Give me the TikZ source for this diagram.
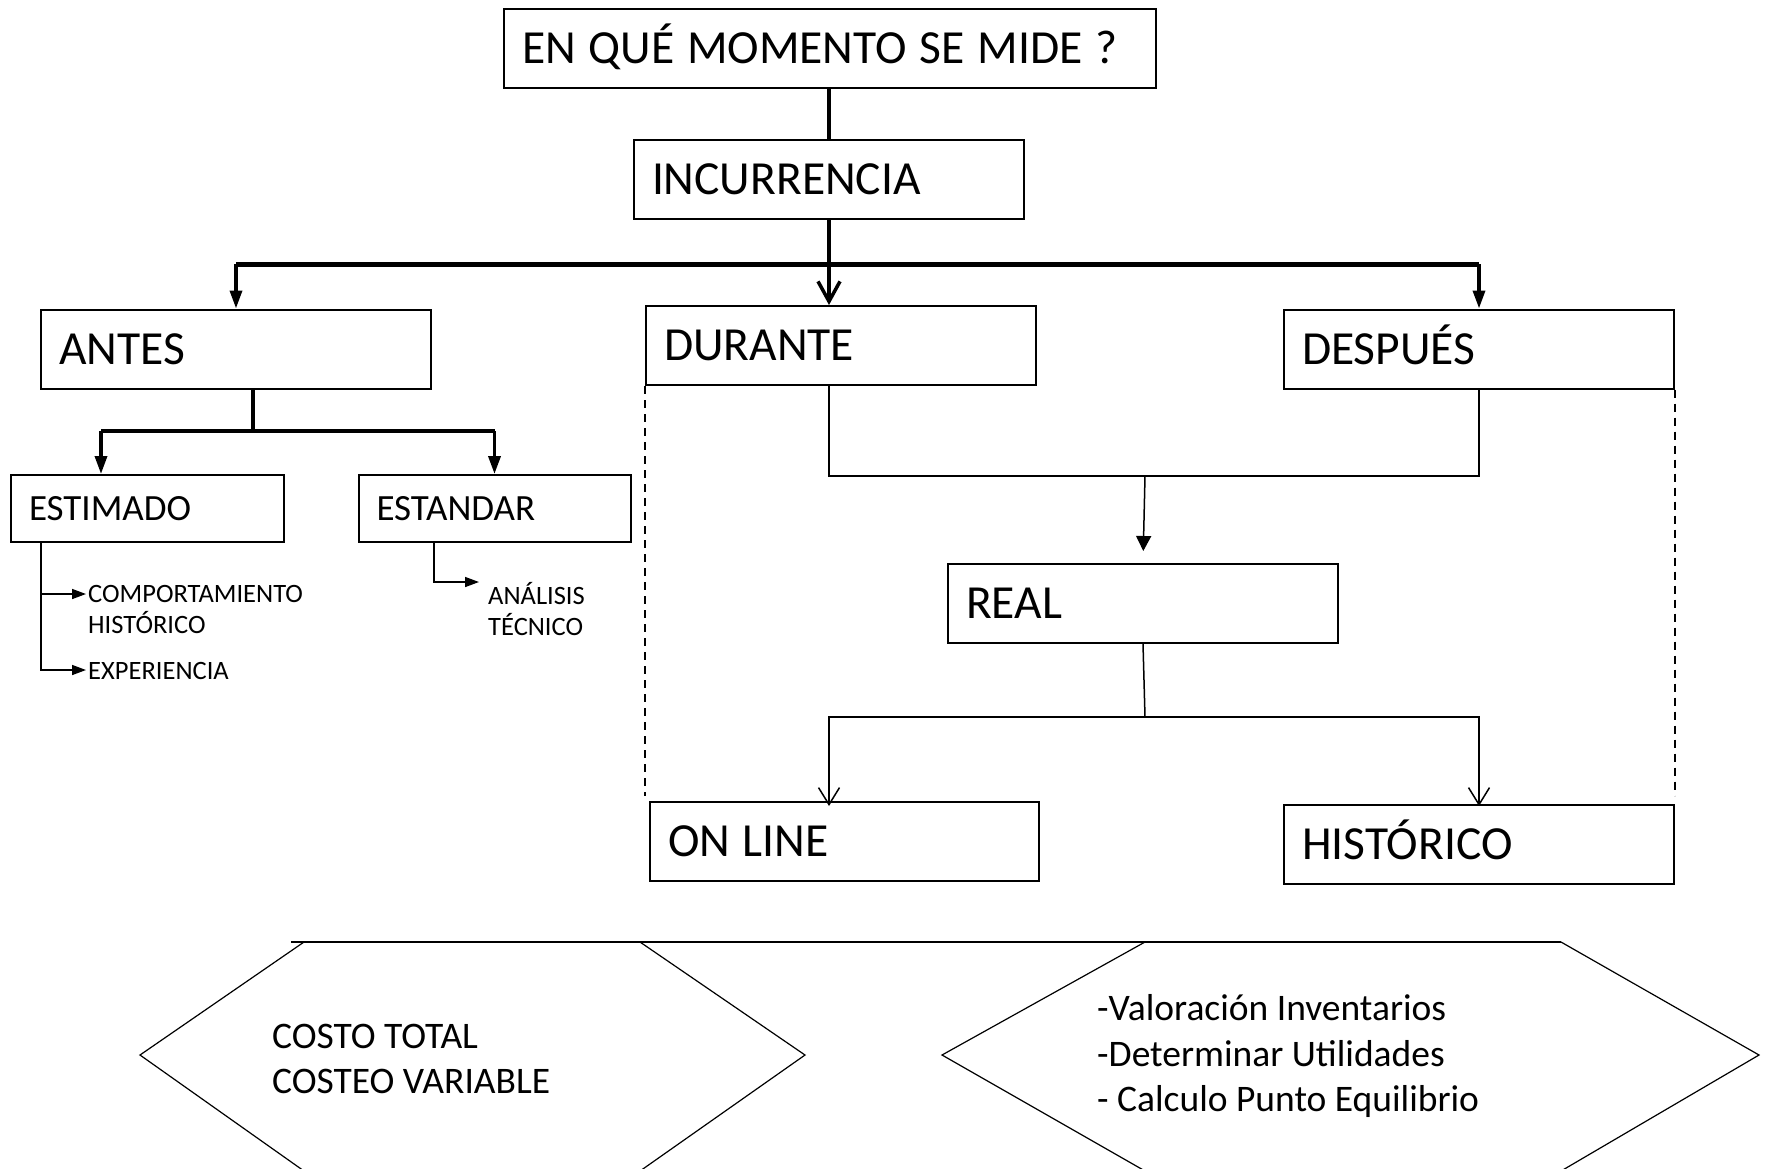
\documentclass[tikz,border=0pt]{standalone}
\usepackage{fontspec}
\setmainfont{Carlito}
\usetikzlibrary{arrows.meta}

\begin{document}
\begin{tikzpicture}[x=1pt, y=-1pt,
		caja/.style={draw, line width=2pt, inner xsep=18pt, inner ysep=0pt, align=left, minimum height=79pt, text height=30pt, text depth=0pt, font=\fontsize{47.5}{56}\selectfont, execute at begin node={\spaceskip=12.8pt\relax}},
		cajachica/.style={caja, minimum height=67pt, text height=23.5pt, font=\fontsize{37}{44}\selectfont},
		nota/.style={inner sep=0pt, align=left, font=\fontsize{26.5}{31}\selectfont},
		hexatexto/.style={inner sep=0pt, align=left, font=\fontsize{37.5}{45.5}\selectfont},
		grueso/.style={line width=3.5pt},
		barra/.style={line width=5pt},
		fino/.style={line width=1.5pt},
		punteado/.style={line width=1.2pt, dash pattern=on 8pt off 6pt},
		flecha/.style={-{Triangle[length=18pt, width=12pt]}},
		flechita/.style={-{Triangle[length=14pt, width=10pt]}},
		abierta/.style={-{Straight Barb[length=17pt, width=21pt]}}]
	\useasboundingbox (0,0) rectangle (1768,1168);

	\node[caja, text width=616pt] (pregunta) at (830, 48) {EN QUÉ MOMENTO SE MIDE ?};
	\node[caja, text width=354pt] (incurrencia) at (829, 179.5) {INCURRENCIA};
	\node[caja, text width=354pt] (antes) at (236, 349) {ANTES};
	\node[caja, text width=354pt] (durante) at (841, 345.5) {DURANTE};
	\node[caja, text width=354pt] (despues) at (1479, 349) {DESPUÉS};
	\node[cajachica, text width=237pt] (estimado) at (147.5, 508.5) {ESTIMADO};
	\node[cajachica, text width=236pt] (estandar) at (494.5, 508.5) {ESTANDAR};
	\node[caja, text width=354pt] (real) at (1143, 603.5) {REAL};
	\node[caja, text width=353pt] (online) at (844.5, 841.5) {ON LINE};
	\node[caja, text width=354pt] (historico) at (1479, 844.5) {HISTÓRICO};

	\node[nota, anchor=west] (comportamiento) at (88, 609.5) {COMPORTAMIENTO\\HISTÓRICO};
	\node[nota, anchor=west] (experiencia) at (88, 671) {EXPERIENCIA};
	\node[nota, anchor=west] (analisis) at (488, 609) {ANÁLISIS\\TÉCNICO};

	\coordinate (reparto) at (829, 264);
	\coordinate (izq) at (101, 431);
	\coordinate (der) at (494.5, 431);
	\coordinate (juntar) at (1145, 476);
	\coordinate (dividir) at (1145, 717);

	% arriba
	\draw[grueso] (pregunta.south -| incurrencia.north) -- (incurrencia.north);
	\draw[grueso] (incurrencia.south) -- (reparto);
	\draw[barra] (antes.north |- reparto) -- (despues.north |- reparto);
	\draw[grueso, flecha] (antes.north |- reparto) -- (antes.north);
	\draw[grueso, -{Straight Barb[length=20pt, width=22pt]}] (reparto) -- (incurrencia.south |- durante.north);
	\draw[grueso, flecha] (despues.north |- reparto) -- (despues.north);

	% antes
	\draw[grueso] (antes.south -| 253,0) -- (253, 431);
	\draw[barra, line width=4.5pt] (izq) -- (der);
	\draw[grueso, flecha] (izq) -- (izq |- estimado.north);
	\draw[grueso, flecha] (der) -- (estandar.north);
	\draw[fino, flechita, shorten >=2pt] ([xshift=-106.5pt]estimado.south) |- ([yshift=15.5pt]comportamiento.west);
	\draw[fino, flechita, shorten >=2pt] ([xshift=-106.5pt]estimado.south) |- ([yshift=1pt]experiencia.west);
	\draw[fino, flechita, shorten >=9pt] ([xshift=-60.5pt]estandar.south) |- ([yshift=27pt]analisis.west);

	% durante y despues
	\draw[punteado] (durante.south west) -- ++(0, 410);
	\draw[punteado] (despues.south east) -- ++(0, 406);
	\draw[fino] (incurrencia.south |- durante.south) |- (juntar) -| (despues.south);
	\draw[fino, -{Triangle[length=15pt, width=15pt]}, shorten >=12pt] (juntar) -- (real.north);
	\draw[fino] (real.south) -- (dividir);
	\draw[fino, abierta, shorten >=-5pt] (dividir) -| (incurrencia.south |- online.north);
	\draw[fino, abierta, shorten >=-2pt] (dividir) -| (historico.north);

	% abajo
	\draw[line width=2pt] (291, 942) -- (1561, 942);
	\draw[line width=1.2pt] (304, 942) -- (140, 1055) -- (304, 1171) -- (640, 1171) -- (805, 1055) -- (640, 942);
	\draw[line width=1.2pt] (1145, 942) -- (942, 1055) -- (1145, 1171) -- (1561, 1171) -- (1759, 1055) -- (1561, 942);
	\node[hexatexto, anchor=west] (costeo) at (272, 1059) {COSTO TOTAL\\COSTEO VARIABLE};
	\node[hexatexto, anchor=west] (usos) at (1097, 1056) {-Valoración Inventarios\\-Determinar Utilidades\\- Calculo Punto Equilibrio};
\end{tikzpicture}
\end{document}
